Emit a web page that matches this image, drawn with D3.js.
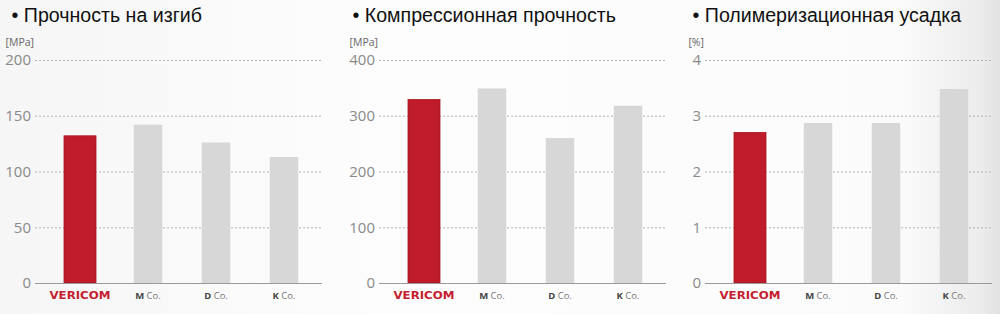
<!DOCTYPE html>
<html>
  <head>
    <meta charset="utf-8">
    <script src="https://d3js.org/d3.v7.min.js"></script>
    <title>Vericom comparison</title>
    <style>
      html, body { margin: 0; padding: 0; }
      body {
        width: 1000px; height: 314px; overflow: hidden;
        background: linear-gradient(to right, #f6f6f6 0%, #fdfdfd 40%, #fbfbfb 90%, #ececec 98%, #e2e2e2 100%);
      }
    </style>
  </head>
  <body>
    <div id="container"></div>
    <script>
    // data
    const companies = ['VERICOM', 'M Co.', 'D Co.', 'K Co.'];
    const flexural = [132, 142, 126, 113];
    const compressive = [329, 349, 260, 318];
    const shrinkage = [2.70, 2.87, 2.87, 3.48];
    const titles = ['Прочность на изгиб', 'Компрессионная прочность', 'Полимеризационная усадка'];
    const units = ['[MPa]', '[MPa]', '[%]'];
    const ticks1 = [0, 50, 100, 150, 200];
    const ticks2 = [0, 100, 200, 300, 400];
    const ticks3 = [0, 1, 2, 3, 4];

    const panels = [
      { values: flexural, ticks: ticks1, x0: 35, tx: 11.5 },
      { values: compressive, ticks: ticks2, x0: 379, tx: 352.5 },
      { values: shrinkage, ticks: ticks3, x0: 705, tx: 692.5 }
    ];

    const w = 1000, h = 314;
    const plotW = 287;
    const yTop = 60, yBot = 283;
    const red = '#bf1b2b', grey = '#d7d7d7';

    const svg = d3.select('#container')
      .append('svg')
      .attr('width', w)
      .attr('height', h);

    panels.forEach((p, k) => {
      const g = svg.append('g');

      const y = d3.scaleLinear()
        .domain([0, d3.max(p.ticks)])
        .range([yBot, yTop]);

      const x = d3.scaleBand()
        .domain(companies)
        .range([p.x0 + 11, p.x0 + 283]);

      // title with bullet
      g.append('text')
        .attr('x', p.tx)
        .attr('y', 22)
        .style('font-family', '"Liberation Sans", Arial, sans-serif')
        .style('font-size', '19.6px')
        .style('fill', '#111')
        .text('\u2022 ' + titles[k]);

      // unit
      g.append('text')
        .attr('x', p.x0 - 1)
        .attr('y', 46)
        .attr('text-anchor', 'end')
        .style('font-family', '"Open Sans", sans-serif')
        .style('font-size', '10.5px')
        .style('fill', '#666')
        .text(units[k]);

      // y axis with grid
      const yAxis = d3.axisLeft(y)
        .tickValues(p.ticks)
        .tickFormat(d3.format('d'))
        .tickSize(-plotW)
        .tickPadding(4);

      const ya = g.append('g')
        .attr('transform', `translate(${p.x0},0)`)
        .call(yAxis);
      ya.select('.domain').remove();
      ya.selectAll('.tick line')
        .attr('stroke', d => d === 0 ? '#9a9a9a' : '#b4b4b4')
        .attr('stroke-dasharray', d => d === 0 ? null : '2,2');
      ya.selectAll('.tick text')
        .style('font-family', '"Open Sans", sans-serif')
        .style('font-size', '15px')
        .style('fill', '#8a8a8a');

      // bars
      g.selectAll('rect.bar')
        .data(p.values)
        .enter()
        .append('rect')
        .attr('class', 'bar')
        .attr('x', (d, i) => {
          const bw = i === 0 ? 32 : 28.5;
          return x(companies[i]) + x.bandwidth() / 2 - bw / 2;
        })
        .attr('y', d => y(d))
        .attr('width', (d, i) => i === 0 ? 32 : 28.5)
        .attr('height', d => yBot - y(d))
        .attr('fill', (d, i) => i === 0 ? red : grey)
        .attr('stroke', (d, i) => i === 0 ? '#a8141f' : 'none')
        .attr('stroke-width', 0.8);

      // redraw baseline above bars
      g.append('line')
        .attr('x1', p.x0).attr('x2', p.x0 + plotW)
        .attr('y1', yBot + 0.5).attr('y2', yBot + 0.5)
        .attr('stroke', '#9a9a9a');

      // category labels
      const xAxis = d3.axisBottom(x).tickSize(0).tickPadding(0);
      const xa = g.append('g')
        .attr('transform', `translate(0,${yBot})`)
        .call(xAxis);
      xa.select('.domain').remove();
      xa.selectAll('.tick text').each(function(d) {
        const t = d3.select(this).text('').attr('y', 16).attr('dy', null);
        if (d === 'VERICOM') {
          t.style('font-family', '"DejaVu Sans", sans-serif')
            .style('font-size', '10.5px')
            .style('font-weight', 'bold')
            .style('fill', '#c41f30')
            .attr('textLength', 61)
            .attr('lengthAdjust', 'spacingAndGlyphs')
            .text(d);
        } else {
          t.style('font-family', '"Open Sans", sans-serif')
            .style('font-size', '9.5px')
            .style('fill', '#555');
          const parts = d.split(' ');
          t.append('tspan').style('font-weight', 'bold').style('fill', '#444').text(parts[0]);
          t.append('tspan').style('fill', '#777').text('\u00a0' + parts[1]);
        }
      });
    });
    </script>
  </body>
</html>
